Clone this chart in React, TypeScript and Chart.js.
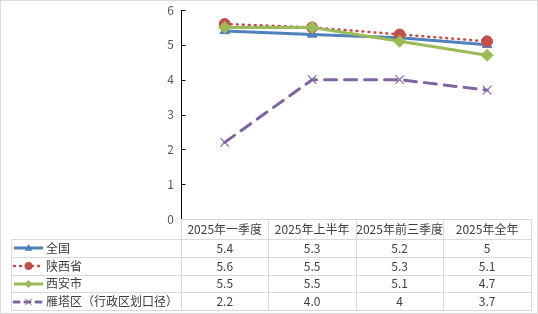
import React, { useEffect, useRef } from "react";
import { Chart, registerables } from "chart.js";

Chart.register(...registerables);

const categories = ["2025年一季度", "2025年上半年", "2025年前三季度", "2025年全年"];
const seriesNames = ["全国", "陕西省", "西安市", "雁塔区（行政区划口径）"];
const nationalValues = [5.4, 5.3, 5.2, 5];
const shaanxiValues = [5.6, 5.5, 5.3, 5.1];
const xianValues = [5.5, 5.5, 5.1, 4.7];
const yantaValues = [2.2, 4.0, 4, 3.7];
const nationalLabels = ["5.4", "5.3", "5.2", "5"];
const shaanxiLabels = ["5.6", "5.5", "5.3", "5.1"];
const xianLabels = ["5.5", "5.5", "5.1", "4.7"];
const yantaLabels = ["2.2", "4.0", "4", "3.7"];
const yMin = 0;
const yMax = 6;
const yStep = 1;

const BLUE = "#4F81BD";
const RED = "#C0504D";
const GREEN = "#9BBB59";
const PURPLE = "#8064A2";
const FONT = '"Noto Sans CJK SC", "Noto Sans", sans-serif';
const GRID = "#D9D9D9";
const TEXT = "#404040";

type Style = {
  color: string;
  width: number;
  dash: number[];
  marker: string;
  radius: number;
};

const styles: Style[] = [
  { color: BLUE, width: 3, dash: [], marker: "triangle", radius: 5.5 },
  { color: RED, width: 2.5, dash: [1, 5], marker: "circle", radius: 5.5 },
  { color: GREEN, width: 3, dash: [], marker: "rectRot", radius: 6 },
  { color: PURPLE, width: 3, dash: [12, 8], marker: "crossRot", radius: 6 },
];

function drawMarker(ctx: CanvasRenderingContext2D, s: Style, x: number, y: number, r: number) {
  ctx.save();
  ctx.setLineDash([]);
  ctx.fillStyle = s.color;
  ctx.strokeStyle = s.color;
  ctx.beginPath();
  if (s.marker === "triangle") {
    ctx.moveTo(x, y - r);
    ctx.lineTo(x + r, y + r * 0.7);
    ctx.lineTo(x - r, y + r * 0.7);
    ctx.closePath();
    ctx.fill();
  } else if (s.marker === "circle") {
    ctx.arc(x, y, r, 0, Math.PI * 2);
    ctx.fill();
  } else if (s.marker === "rectRot") {
    ctx.moveTo(x, y - r);
    ctx.lineTo(x + r, y);
    ctx.lineTo(x, y + r);
    ctx.lineTo(x - r, y);
    ctx.closePath();
    ctx.fill();
  } else {
    ctx.lineWidth = 1;
    const d = r * 0.75;
    ctx.moveTo(x - d, y - d);
    ctx.lineTo(x + d, y + d);
    ctx.moveTo(x + d, y - d);
    ctx.lineTo(x - d, y + d);
    ctx.stroke();
  }
  ctx.restore();
}

const framePlugin = {
  id: "frameAndTable",
  afterDraw(chart: any) {
    const ctx: CanvasRenderingContext2D = chart.ctx;
    const xs = chart.scales.x;
    const ys = chart.scales.y;
    const area = chart.chartArea;
    const n = categories.length;
    const colW = (area.right - area.left) / n;
    const edges: number[] = [];
    for (let i = 0; i < n; i++) edges.push(xs.getPixelForValue(i) - colW / 2);
    edges.push(xs.getPixelForValue(n - 1) + colW / 2);
    const px = (v: number) => Math.round(v) + 0.5;

    ctx.save();
    // outer frame
    ctx.strokeStyle = GRID;
    ctx.lineWidth = 1;
    ctx.strokeRect(0.5, 0.5, chart.width - 1, chart.height - 1);

    // y axis line and inside ticks
    const axisX = px(area.left);
    const top = ys.getPixelForValue(yMax);
    const bottom = ys.getPixelForValue(yMin);
    ctx.strokeStyle = "#000000";
    ctx.beginPath();
    ctx.moveTo(axisX, Math.round(top));
    ctx.lineTo(axisX, Math.round(bottom));
    for (let v = yMin; v <= yMax; v += yStep) {
      const y = px(ys.getPixelForValue(v));
      ctx.moveTo(axisX, y);
      ctx.lineTo(axisX + 4, y);
    }
    ctx.stroke();

    // data table
    const headerTop = Math.round(bottom);
    const headerH = 20;
    const rowH = 17.75;
    const legendLeft = 11;
    const rows = [nationalLabels, shaanxiLabels, xianLabels, yantaLabels];
    const tableBottom = headerTop + headerH + rowH * rows.length;

    ctx.strokeStyle = GRID;
    ctx.lineWidth = 1;
    ctx.beginPath();
    ctx.moveTo(px(edges[0]), px(headerTop));
    ctx.lineTo(px(edges[n]), px(headerTop));
    for (let r = 0; r <= rows.length; r++) {
      const y = px(headerTop + headerH + rowH * r);
      ctx.moveTo(px(legendLeft), y);
      ctx.lineTo(px(edges[n]), y);
    }
    for (let i = 0; i <= n; i++) {
      ctx.moveTo(px(edges[i]), px(headerTop));
      ctx.lineTo(px(edges[i]), px(tableBottom));
    }
    ctx.moveTo(px(legendLeft), px(headerTop + headerH));
    ctx.lineTo(px(legendLeft), px(tableBottom));
    ctx.stroke();

    ctx.fillStyle = TEXT;
    ctx.font = `12px ${FONT}`;
    ctx.textBaseline = "middle";
    ctx.textAlign = "center";
    for (let i = 0; i < n; i++) {
      ctx.fillText(categories[i], xs.getPixelForValue(i), headerTop + headerH / 2 + 0.5);
    }
    for (let r = 0; r < rows.length; r++) {
      const cy = headerTop + headerH + rowH * r + rowH / 2 + 0.5;
      ctx.textAlign = "center";
      ctx.fillStyle = TEXT;
      for (let i = 0; i < n; i++) {
        ctx.fillText(rows[r][i], xs.getPixelForValue(i), cy);
      }
      const s = styles[r];
      ctx.save();
      ctx.strokeStyle = s.color;
      ctx.lineWidth = s.width;
      ctx.lineCap = r === 1 || r === 3 ? "round" : "butt";
      ctx.setLineDash(r === 3 ? [5, 6] : s.dash);
      ctx.beginPath();
      ctx.moveTo(14, Math.round(cy));
      ctx.lineTo(43, Math.round(cy));
      ctx.stroke();
      ctx.restore();
      drawMarker(ctx, s, 28.5, Math.round(cy), r === 3 ? 4.5 : 4);
      ctx.textAlign = "left";
      ctx.fillStyle = TEXT;
      ctx.fillText(seriesNames[r], 46, cy);
    }
    ctx.restore();
  },
};

export default function App() {
  const ref = useRef<HTMLCanvasElement | null>(null);
  useEffect(() => {
    if (!ref.current) return;
    const seriesData = [nationalValues, shaanxiValues, xianValues, yantaValues];
    const chart = new Chart(ref.current, {
      type: "line",
      data: {
        labels: categories,
        datasets: seriesData.map((d, i) => ({
          label: seriesNames[i],
          data: d,
          borderColor: styles[i].color,
          backgroundColor: styles[i].color,
          borderWidth: styles[i].width,
          borderDash: styles[i].dash,
          borderCapStyle: i === 1 || i === 3 ? "round" : "butt",
          pointStyle: styles[i].marker as any,
          pointRadius: styles[i].radius,
          pointHoverRadius: styles[i].radius,
          pointBackgroundColor: styles[i].color,
          pointBorderColor: styles[i].color,
          pointBorderWidth: i === 3 ? 1.2 : 1,
          tension: 0,
          fill: false,
          order: 3 - i,
        })),
      },
      options: {
        responsive: false,
        animation: false,
        devicePixelRatio: 1,
        layout: { padding: { top: 10, bottom: 95, left: 150, right: 2 } },
        plugins: { legend: { display: false }, tooltip: { enabled: false } },
        scales: {
          x: { display: false, offset: true },
          y: {
            min: yMin,
            max: yMax,
            ticks: {
              stepSize: yStep,
              color: "#595959",
              font: { size: 12, family: FONT },
              padding: 7,
            },
            grid: { display: false, drawTicks: false },
            border: { display: false },
            afterFit: (scale: any) => {
              scale.width = 31;
              scale.paddingTop = 0;
              scale.paddingBottom = 0;
            },
          },
        },
      },
      plugins: [framePlugin],
    });
    return () => chart.destroy();
  }, []);
  return (
    <div style={{ position: "fixed", left: 0, top: 0, width: 538, height: 314, background: "#fff" }}>
      <canvas ref={ref} width={538} height={314} style={{ width: 538, height: 314 }} />
    </div>
  );
}
